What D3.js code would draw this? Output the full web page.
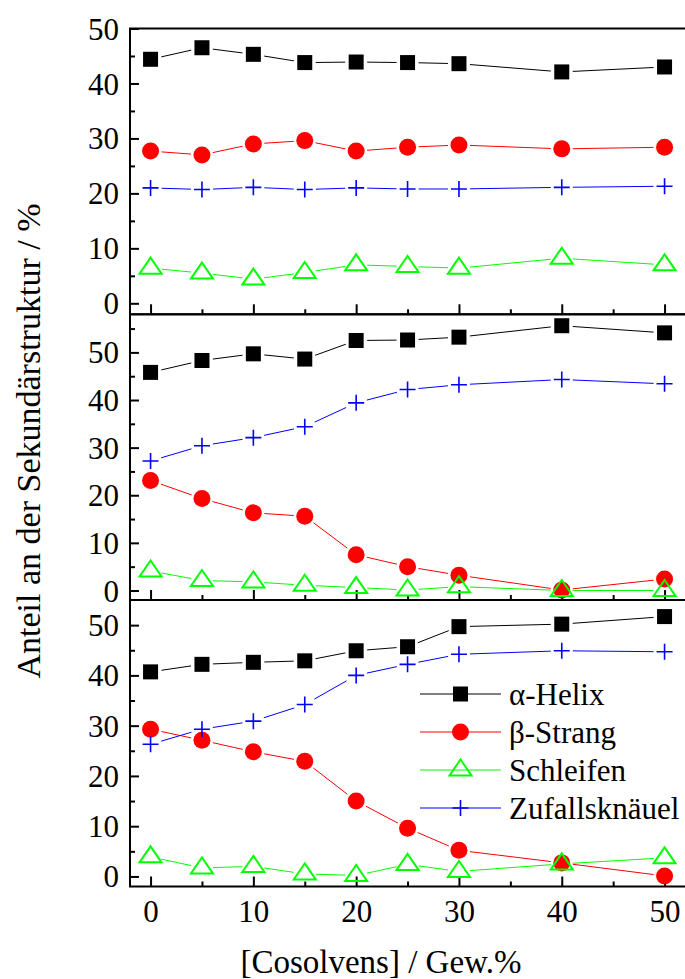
<!DOCTYPE html>
<html>
<head>
<meta charset="utf-8">
<script src="https://cdn.jsdelivr.net/npm/d3@7"></script>
<style>
  body { margin: 0; background: #fff; }
  svg { display: block; }
</style>
</head>
<body>
<svg id="chart"></svg>
<script>
const width = 685, height = 979;
const left = 130, right = 687;
const fontFamily = '"Liberation Serif", "Times New Roman", serif';

// x values (Cosolvens in Gew.%)
const cosolvens = [0, 5, 10, 15, 20, 25, 30, 40, 50];
const xTicks = [0, 10, 20, 30, 40, 50];
const xMinor = [5, 15, 25, 35, 45];

// panel 1 (top)
const helix1 = [44.4, 46.5, 45.3, 43.8, 43.9, 43.8, 43.6, 42.1, 43.0];
const strang1 = [27.7, 27.0, 29.0, 29.6, 27.7, 28.4, 28.8, 28.1, 28.4];
const schleifen1 = [6.4, 5.5, 4.4, 5.6, 7.0, 6.7, 6.4, 8.2, 7.0];
const knaeuel1 = [21.0, 20.7, 21.1, 20.7, 21.0, 20.8, 20.8, 21.1, 21.3];

// panel 2 (middle)
const helix2 = [45.8, 48.3, 49.7, 48.6, 52.5, 52.6, 53.2, 55.6, 54.1];
const strang2 = [23.1, 19.3, 16.3, 15.6, 7.5, 5.0, 3.2, 0.1, 2.4];
const schleifen2 = [4.1, 2.1, 1.8, 1.1, 0.6, 0.1, 0.8, 0.0, 0.0];
const knaeuel2 = [27.2, 30.4, 32.1, 34.4, 39.4, 42.2, 43.2, 44.3, 43.4];

// panel 3 (bottom)
const helix3 = [40.7, 42.2, 42.6, 42.9, 44.9, 45.7, 49.7, 50.2, 51.7];
const strang3 = [29.3, 27.1, 24.8, 22.9, 15.0, 9.6, 5.2, 2.7, 0.1];
const schleifen3 = [3.9, 1.7, 2.0, 0.5, 0.2, 2.4, 1.0, 2.5, 3.7];
const knaeuel3 = [26.3, 29.3, 30.9, 34.2, 40.0, 42.2, 44.2, 44.9, 44.7];

const yTicks = [0, 10, 20, 30, 40, 50];
const legendLabels = ["α-Helix", "β-Strang", "Schleifen", "Zufallsknäuel"];
const seriesColors = ["#000000", "#ff0000", "#00ff00", "#0000ff"];
const seriesSymbols = ["square", "circle", "triangle", "plus"];

const panels = [
    { top: 28.5, bottom: 314.3, domain: [-2, 50], minor: [5, 15, 25, 35, 45], series: [helix1, strang1, schleifen1, knaeuel1] },
    { top: 314.3, bottom: 600, domain: [-2, 58], minor: [5, 15, 25, 35, 45, 55], series: [helix2, strang2, schleifen2, knaeuel2] },
    { top: 600, bottom: 886.5, domain: [-2, 55], minor: [5, 15, 25, 35, 45], series: [helix3, strang3, schleifen3, knaeuel3] }
];

const svg = d3.select("#chart")
    .attr("width", width)
    .attr("height", height)
    .style("font-family", fontFamily);

svg.append("rect").attr("width", width).attr("height", height).attr("fill", "#fff");

const xScale = d3.scaleLinear().domain([-2, 52]).range([left, 130 + 54 * 10.28]);

// draw one marker at (x, y)
function drawMarker(g, type, color, x, y) {
    if (type === "square") {
        g.append("rect")
            .attr("x", x - 7.5).attr("y", y - 7.5)
            .attr("width", 15).attr("height", 15)
            .attr("fill", color);
    } else if (type === "circle") {
        g.append("circle")
            .attr("cx", x).attr("cy", y).attr("r", 8.5)
            .attr("fill", color);
    } else if (type === "triangle") {
        g.append("path")
            .attr("d", `M${x},${y - 10.5} L${x + 11},${y + 5.5} L${x - 11},${y + 5.5} Z`)
            .attr("fill", "none")
            .attr("stroke", color)
            .attr("stroke-width", 2);
    } else {
        g.append("path")
            .attr("d", `M${x - 8},${y} H${x + 8} M${x},${y - 8} V${y + 8}`)
            .attr("stroke", color)
            .attr("stroke-width", 1.6);
    }
}

panels.forEach((p, pi) => {
    const yScale = d3.scaleLinear().domain(p.domain).range([p.bottom, p.top]);
    const g = svg.append("g");
    const isLast = pi === panels.length - 1;

    // y axis major ticks (inward) with labels
    const yAxis = g.append("g")
        .attr("transform", `translate(${left},0)`)
        .call(d3.axisLeft(yScale).tickValues(yTicks).tickSize(-9).tickPadding(11).tickFormat(d3.format("d")));
    yAxis.select(".domain").remove();
    yAxis.selectAll("line").attr("stroke-width", 2);
    yAxis.selectAll("text")
        .attr("font-size", 31)
        .attr("font-family", fontFamily)
        .attr("dy", "0.34em")
        .attr("fill", "#000");

    // y axis minor ticks
    const yMinor = g.append("g")
        .attr("transform", `translate(${left},0)`)
        .call(d3.axisLeft(yScale).tickValues(p.minor).tickSize(-5).tickFormat(""));
    yMinor.select(".domain").remove();
    yMinor.selectAll("line").attr("stroke-width", 2);

    // x axis ticks at bottom of each panel
    const xAxis = g.append("g")
        .attr("transform", `translate(0,${p.bottom})`)
        .call(d3.axisBottom(xScale).tickValues(xTicks).tickSize(-10)
            .tickFormat(isLast ? d3.format("d") : () => ""));
    xAxis.select(".domain").remove();
    xAxis.selectAll("line").attr("stroke-width", 2);
    xAxis.selectAll("text")
        .attr("font-size", 31)
        .attr("font-family", fontFamily)
        .attr("dy", null)
        .attr("y", 35)
        .attr("fill", "#000");

    const xMin = g.append("g")
        .attr("transform", `translate(0,${p.bottom})`)
        .call(d3.axisBottom(xScale).tickValues(xMinor).tickSize(-5).tickFormat(""));
    xMin.select(".domain").remove();
    xMin.selectAll("line").attr("stroke-width", 2);

    // series: line segments with gaps around the markers, then markers
    p.series.forEach((vals, si) => {
        const color = seriesColors[si];
        const pts = cosolvens.map((c, i) => [xScale(c), yScale(vals[i])]);
        const gap = 11;
        for (let i = 0; i < pts.length - 1; i++) {
            const [x1, y1] = pts[i], [x2, y2] = pts[i + 1];
            const dx = x2 - x1, dy = y2 - y1;
            const len = Math.hypot(dx, dy);
            if (len <= 2 * gap) continue;
            const ux = dx / len, uy = dy / len;
            g.append("line")
                .attr("x1", x1 + ux * gap).attr("y1", y1 + uy * gap)
                .attr("x2", x2 - ux * gap).attr("y2", y2 - uy * gap)
                .attr("stroke", color)
                .attr("stroke-width", 1);
        }
        const mg = g.append("g");
        pts.forEach(([x, y]) => drawMarker(mg, seriesSymbols[si], color, x, y));
    });

    // panel frame
    g.append("rect")
        .attr("x", left).attr("y", p.top)
        .attr("width", right - left).attr("height", p.bottom - p.top)
        .attr("fill", "none")
        .attr("stroke", "#000")
        .attr("stroke-width", 2);
});

// legend in bottom panel
const legend = svg.append("g");
const legendRows = [694, 732, 770, 808];
legendLabels.forEach((label, i) => {
    const y = legendRows[i];
    legend.append("line")
        .attr("x1", 420).attr("x2", 501)
        .attr("y1", y).attr("y2", y)
        .attr("stroke", seriesColors[i])
        .attr("stroke-width", 1);
    drawMarker(legend, seriesSymbols[i], seriesColors[i], 460.5, y);
    legend.append("text")
        .attr("x", 509)
        .attr("y", y)
        .attr("dy", "0.34em")
        .attr("font-size", 31)
        .attr("fill", "#000")
        .text(label);
});

// axis titles
svg.append("text")
    .attr("x", 381)
    .attr("y", 973)
    .attr("text-anchor", "middle")
    .attr("font-size", 33)
    .text("[Cosolvens] / Gew.%");

svg.append("text")
    .attr("transform", "translate(40,441) rotate(-90)")
    .attr("text-anchor", "middle")
    .attr("font-size", 34)
    .text("Anteil an der Sekundärstruktur / %");
</script>
</body>
</html>
